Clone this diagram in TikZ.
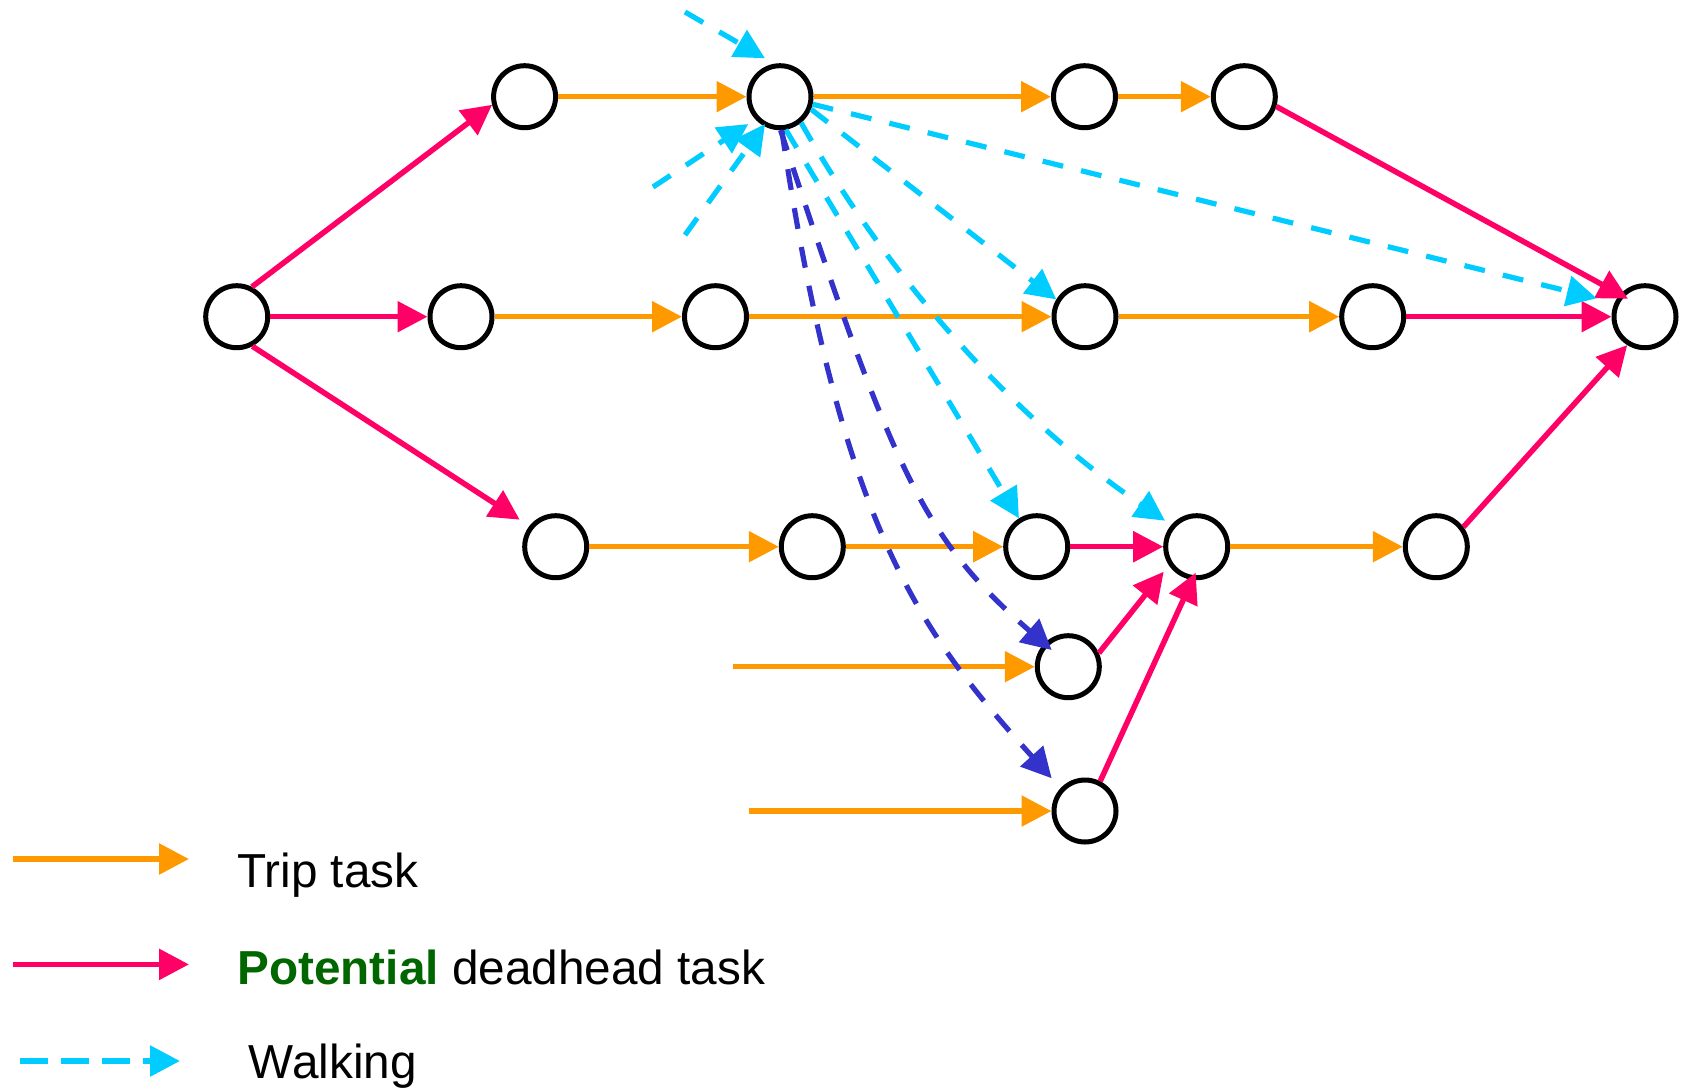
\documentclass[tikz,border=0pt]{standalone}
\usepackage{fontspec}
\setmainfont{Liberation Sans}
\usetikzlibrary{arrows.meta,calc}
\definecolor{tripc}{HTML}{FF9900}
\definecolor{deadc}{HTML}{FF0066}
\definecolor{walkc}{HTML}{00CCFF}
\definecolor{walkbc}{HTML}{3333CC}
\definecolor{pgreen}{HTML}{006600}
\begin{document}
\begin{tikzpicture}[x=0.5pt,y=-0.5pt,
  stop/.style={circle,draw=black,line width=2.5pt,minimum size=31pt,inner sep=0pt},
  tipa/.style={-{Triangle[length=15pt,width=15pt]}},
  trip/.style={tipa,draw=tripc,line width=2.75pt},
  dead/.style={tipa,draw=deadc,line width=2.75pt},
  walk/.style={tipa,draw=walkc,line width=2.6pt,dash pattern=on 10.5pt off 9.25pt},
  walkb/.style={tipa,draw=walkbc,line width=2.6pt,dash pattern=on 10.5pt off 9.25pt},
  lbl/.style={anchor=base west,inner sep=0pt,font=\fontsize{23.85pt}{28pt}\selectfont}]
\useasboundingbox (0,0) rectangle (1682,1088);

% nodes
\node[stop] (a1) at (524.6,96.7) {};
\node[stop] (a2) at (780,96.7) {};
\node[stop] (a3) at (1084.5,96.7) {};
\node[stop] (a4) at (1244.3,96.7) {};
\node[stop] (s)  at (236.7,316.7) {};
\node[stop] (b1) at (461,316.7) {};
\node[stop] (b2) at (715.5,316.7) {};
\node[stop] (b3) at (1085,316.7) {};
\node[stop] (b4) at (1372.7,316.7) {};
\node[stop] (t)  at (1645,316.7) {};
\node[stop] (c1) at (555.7,546.7) {};
\node[stop] (c2) at (812.3,546.7) {};
\node[stop] (c3) at (1036.7,546.7) {};
\node[stop] (c4) at (1196.7,546.7) {};
\node[stop] (c5) at (1436.3,546.7) {};
\node[stop] (d1) at (1068.3,666.7) {};
\node[stop] (d2) at (1085,811) {};

% free ends
\coordinate (w1s) at (685,12);
\coordinate (w2s) at (653,187);
\coordinate (w3s) at (685,235);
\coordinate (o1s) at (732.7,666.7);
\coordinate (o2s) at (748.7,811);

% trip tasks
\draw[trip] (a1) -- (a2);
\draw[trip] (a2) -- (a3);
\draw[trip] (a3) -- (a4);
\draw[trip] (b1) -- (b2);
\draw[trip] (b2) -- (b3);
\draw[trip] (b3) -- (b4);
\draw[trip] (c1) -- (c2);
\draw[trip] (c2) -- (c3);
\draw[trip] (c4) -- (c5);
\draw[trip] (o1s) -- (d1);
\draw[trip] (o2s) -- (d2);

% deadhead tasks
\draw[dead] (s.63.6) -- (a1.194);
\draw[dead] (s) -- (b1);
\draw[dead] (s.-62) -- ($(c1)+(-36,-27)$);
\draw[dead] (a4.-17) -- ($(t)+(-17,-18)$);
\draw[dead] (b4) -- (t);
\draw[dead] (c5.36) -- (t.238);
\draw[dead] (c3) -- (c4);
\draw[dead] (d1.24) -- ($(c4)+(-33,25)$);
\draw[dead] (d2.63) -- ($(c4)+(-1,26)$);

% walking
\draw[walk] (w1s) -- ($(a2)+(-15,-38.4)$);
\draw[walk] (w2s) -- ($(a2)+(-31.7,27.3)$);
\draw[walk] (w3s) -- ($(a2)+(-15,27.3)$);
\draw[walk] (a2.-22) -- (b3.149);
\draw[walk] (a2.-13) -- ($(t)+(-48.3,-18.4)$);
\draw[walk] (a2.-80) -- (c3.122);
\draw[walk] (a2.-51) .. controls (891.3,282) and (1013.3,417.6) .. ($(c4)+(-31.7,-26)$);
\draw[walkb] (a2.-89) .. controls (893,472) and (923,538.5) .. ($(d1)+(-16.6,-16.7)$);
\draw[walkb] (a2.-87) .. controls (841,526) and (918,630) .. ($(d2)+(-33.3,-32.7)$);

% legend
\coordinate (l1a) at (13,859);   \coordinate (l1b) at (189,859);
\coordinate (l2a) at (13,964.4); \coordinate (l2b) at (189,964.4);
\coordinate (l3a) at (20.4,1061); \coordinate (l3b) at (180,1061);
\draw[trip,line width=2.9pt] (l1a) -- (l1b);
\draw[dead,line width=2.9pt] (l2a) -- (l2b);
\draw[walk,line width=2.9pt,dash pattern=on 14pt off 6.4pt] (l3a) -- (l3b);
\node[lbl] (txt1) at (237,887.3) {Trip task};
\node[lbl] (txt2) at (237,984) {{\bfseries\color{pgreen}Potential} deadhead task};
\node[lbl] (txt3) at (248.5,1078.5) {Walking};
\end{tikzpicture}
\end{document}
